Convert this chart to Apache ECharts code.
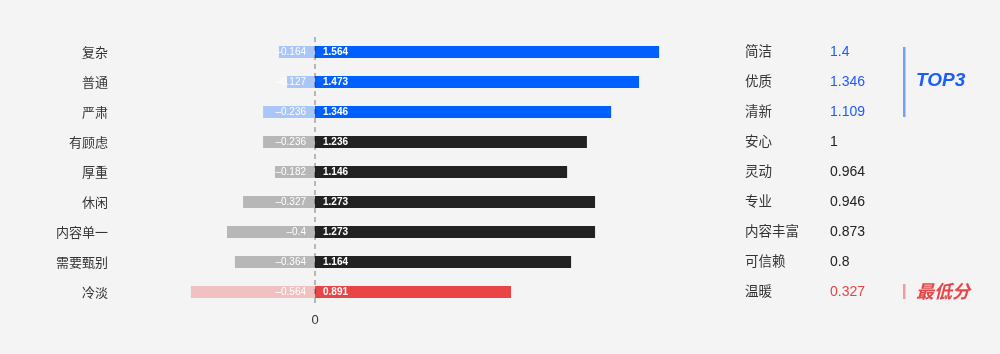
<!DOCTYPE html>
<html>
<head>
<meta charset="utf-8">
<script src="https://cdn.jsdelivr.net/npm/echarts@6/dist/echarts.min.js"></script>
<style>
  html, body { margin: 0; padding: 0; background: #f4f4f4; }
  #chart { width: 1000px; height: 354px; }
</style>
</head>
<body>
<div id="chart"></div>
<script>
// left side: negative words, scores split into positive / negative part
var leftCats = ['复杂', '普通', '严肃', '有顾虑', '厚重', '休闲', '内容单一', '需要甄别', '冷淡'];
var posVals = [1.564, 1.473, 1.346, 1.236, 1.146, 1.273, 1.273, 1.164, 0.891];
var negVals = [-0.164, -0.127, -0.236, -0.236, -0.182, -0.327, -0.4, -0.364, -0.564];

// right side: positive words ranking
var rightCats = ['简洁', '优质', '清新', '安心', '灵动', '专业', '内容丰富', '可信赖', '温暖'];
var rightVals = [1.4, 1.346, 1.109, 1, 0.964, 0.946, 0.873, 0.8, 0.327];

var numFont = 'Helvetica, Arial, "Liberation Sans", "Noto Sans CJK SC", sans-serif';
var cnFont = '"Noto Sans CJK SC", Helvetica, Arial, sans-serif';

function rowType(i) {
    if (i < 3) return 'blue';
    if (i == leftCats.length - 1) return 'red';
    return 'dark';
}
var posColor = { blue: '#0060ff', dark: '#222222', red: '#e84547' };
var negColor = { blue: '#a9c6f8', dark: '#b7b7b7', red: '#f1c1c1' };

var chart = echarts.init(document.getElementById('chart'));
var option = {
    backgroundColor: '#f4f4f4',
    animation: false,
    grid: {
        left: 183,
        right: 333,
        top: 37,
        height: 270,
        outerBoundsMode: 'none'
    },
    xAxis: {
        type: 'value',
        min: -0.6,
        max: 1.6,
        interval: 0.2,
        splitLine: { show: false },
        axisLine: { show: false },
        axisTick: { show: false },
        axisLabel: {
            margin: 7,
            fontSize: 13,
            color: '#333',
            fontFamily: numFont,
            formatter: function(v) {
                return Math.abs(v) < 1e-9 ? '0' : '';
            }
        }
    },
    yAxis: [{
        type: 'category',
        data: leftCats,
        inverse: true,
        axisLine: { show: false },
        axisTick: { show: false },
        axisLabel: {
            margin: 75,
            fontSize: 13,
            lineHeight: 16,
            color: '#333',
            fontFamily: cnFont,
            padding: [0, 0, 2, 0]
        }
    }, {
        type: 'category',
        data: rightCats,
        inverse: true,
        position: 'right',
        axisLine: { show: false },
        axisTick: { show: false },
        axisLabel: {
            margin: 78,
            align: 'left',
            formatter: function(v, i) {
                return '{n|' + v + '}{' + rowType(i) + '|' + rightVals[i] + '}';
            },
            rich: {
                n: { width: 85, fontSize: 13.5, lineHeight: 18, verticalAlign: 'middle', padding: [0, 0, 2, 0], color: '#333', fontFamily: cnFont },
                blue: { fontSize: 14, lineHeight: 18, verticalAlign: 'middle', color: '#1a5cff', fontFamily: numFont },
                dark: { fontSize: 14, lineHeight: 18, verticalAlign: 'middle', color: '#222', fontFamily: numFont },
                red: { fontSize: 14, lineHeight: 18, verticalAlign: 'middle', color: '#e84547', fontFamily: numFont }
            }
        }
    }],
    series: [{
        name: 'pos',
        type: 'bar',
        data: posVals,
        barWidth: 12,
        barGap: '-100%',
        itemStyle: {
            color: function(p) { return posColor[rowType(p.dataIndex)]; }
        },
        label: {
            show: true,
            position: 'insideLeft',
            distance: 8,
            color: '#fff',
            fontSize: 10,
            fontWeight: 'bold',
            fontFamily: numFont
        },
        markLine: {
            silent: true,
            symbol: 'none',
            label: { show: false },
            lineStyle: { color: 'rgba(0,0,0,0.25)', width: 2, type: [5, 4] },
            data: [{ xAxis: 0 }]
        }
    }, {
        name: 'neg',
        type: 'bar',
        data: negVals,
        barWidth: 12,
        barGap: '-100%',
        itemStyle: {
            color: function(p) { return negColor[rowType(p.dataIndex)]; }
        },
        label: {
            show: true,
            position: 'insideRight',
            distance: 9,
            color: '#fff',
            fontSize: 10,
            fontFamily: numFont,
            formatter: function(p) {
                return '–' + Math.abs(p.value);
            }
        }
    }],
    graphic: [
        { type: 'rect', shape: { x: 903, y: 47, width: 2.5, height: 70 }, style: { fill: '#73a0f2' } },
        {
            type: 'text', x: 916, y: 81,
            style: { text: 'TOP3', fill: '#1a5cff', font: 'italic bold 19px ' + numFont, verticalAlign: 'middle' }
        },
        { type: 'rect', shape: { x: 903, y: 284, width: 2.5, height: 15 }, style: { fill: '#ee9c9e' } },
        {
            type: 'text', x: 916, y: 291,
            style: { text: '最低分', fill: '#e84547', font: 'italic bold 18px ' + cnFont, verticalAlign: 'middle' }
        }
    ]
};
chart.setOption(option);
</script>
</body>
</html>
